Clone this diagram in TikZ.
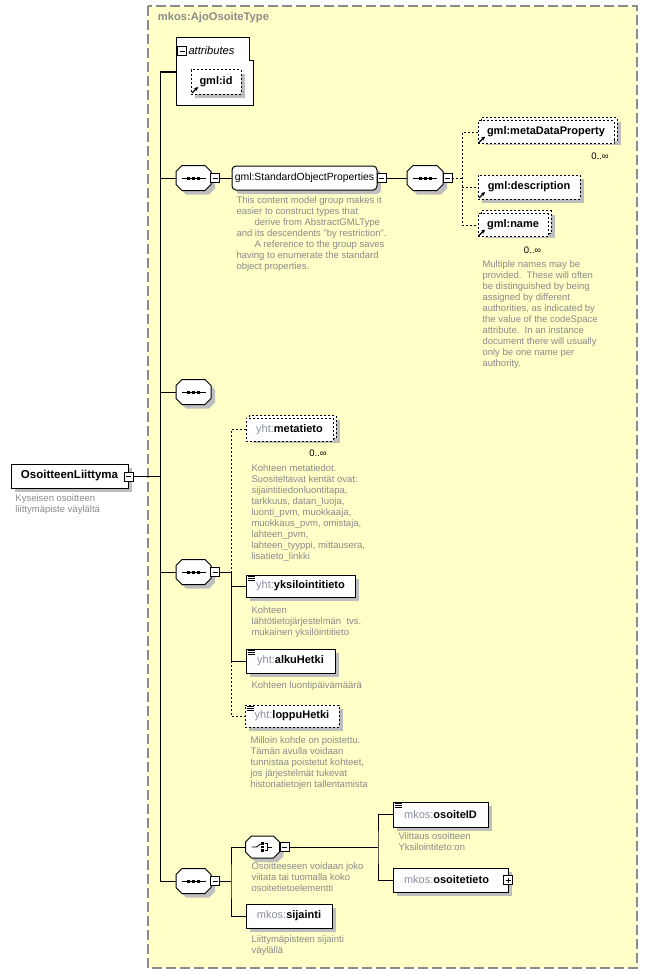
\documentclass[tikz,border=0pt]{standalone}
\usepackage{fontspec}
\setmainfont{Liberation Sans}
\usetikzlibrary{shadows,arrows.meta}

\definecolor{typefill}{HTML}{FFFFC8}
\definecolor{typeframe}{HTML}{8C8C8C}
\definecolor{notegray}{HTML}{8A8A8A}
\definecolor{prefixgray}{HTML}{8890A0}
\definecolor{shadowgray}{HTML}{BEBEBE}

\newcommand\pfx[1]{{\mdseries\color{prefixgray}#1}}
\newcommand\refmark[1]{\draw[line width=1.1pt,-{Stealth[length=4pt,width=4pt]}] ([shift={(1.5pt,1.5pt)}]#1.south west) -- ++(6pt,6pt);}
\newcommand\simplemark[1]{\foreach \k in {2pt,4pt,6pt} \draw[line width=0.7pt] ([shift={(2pt,-\k)}]#1.north west) -- ++(7pt,0pt);}
\newcommand\octagon[1]{\draw[fill=white,boxshadow] ([xshift=6pt]#1.north west) -- ([xshift=-6pt]#1.north east) -- ([yshift=-6pt]#1.north east)
  -- ([yshift=6pt]#1.south east) -- ([xshift=-6pt]#1.south east) -- ([xshift=6pt]#1.south west) -- ([yshift=6pt]#1.south west) -- ([yshift=-6pt]#1.north west) -- cycle;}
\newcommand\seqmark[1]{\octagon{#1}
  \draw[line width=1pt] ([xshift=-12pt]#1.center) -- ([xshift=12pt]#1.center);
  \foreach \d in {-5pt,0pt,5pt} \fill ([shift={(\d-1.5pt,-1.5pt)}]#1.center) rectangle ++(3pt,3pt);}

\tikzset{
  boxshadow/.style={drop shadow={shadow xshift=4pt,shadow yshift=-4pt,fill=shadowgray,opacity=1}},
  elembox/.style={draw,fill=white,minimum height=24pt,inner sep=2pt,font=\bfseries\fontsize{11}{13}\selectfont},
  optbox/.style={elembox,dash pattern=on 2pt off 2pt},
  octo/.style={minimum width=34pt,minimum height=24pt,inner sep=0pt},
  pmbox/.style={draw,fill=white,minimum size=9pt,inner sep=0pt,line width=0.8pt},
  minusbox/.style={pmbox,path picture={\draw ([xshift=2pt]path picture bounding box.west) -- ([xshift=-2pt]path picture bounding box.east);}},
  plusbox/.style={pmbox,path picture={\draw ([xshift=2pt]path picture bounding box.west) -- ([xshift=-2pt]path picture bounding box.east);
      \draw ([yshift=2pt]path picture bounding box.south) -- ([yshift=-2pt]path picture bounding box.north);}},
  note/.style={anchor=north west,align=left,inner sep=0pt,text=notegray,font=\fontsize{9.5}{11}\selectfont},
  link/.style={line width=1pt},
  optlink/.style={line width=1pt,dash pattern=on 2pt off 2pt},
  mult/.style={font=\fontsize{9.5}{10}\selectfont,inner sep=0pt}
}

\begin{document}
\begin{tikzpicture}[x=1pt,y=-1pt,line width=1pt]
    \useasboundingbox (0,0) rectangle (647,974);

    % the complex type
    \draw[typeframe,line width=1.2pt,dash pattern=on 10pt off 4pt,fill=typefill] (148,6) rectangle (637,968);
    \node[anchor=west,text=typeframe,font=\bfseries\fontsize{11.2}{13}\selectfont] (typetitle) at (154,18) {mkos:AjoOsoiteType};

    % attributes
    \node[minimum width=72pt,minimum height=67pt,inner sep=0pt] (attr) at (213,71.5) {};
    \draw[link,fill=white] (attr.north west) -- (attr.north east) -- ([yshift=-23pt]attr.north east) -- ++(4pt,0pt) |- (attr.south west) -- cycle;
    \node[minusbox] (attrm) at (182,51) {};
    \node[anchor=west,inner sep=0pt,font=\itshape\fontsize{11.2}{13}\selectfont] (attrlabel) at (188,50.5) {attributes};
    \node[optbox,boxshadow,minimum width=50pt] (gmlid) at (216,82) {gml:id};
    \refmark{gmlid}

    % root element
    \node[elembox,boxshadow,minimum width=117pt,font=\bfseries\fontsize{11.5}{13}\selectfont] (liittyma) at (69.5,476) {OsoitteenLiittyma};
    \node[minusbox] (liittymam) at (128.5,476.5) {};
    \node[note] (liittymanote) at (15,494) {Kyseisen osoitteen\\liittymäpiste väylältä};

    % sequences on the spine
    \node[octo] (seq1) at (193.5,178) {};
    \node[octo] (seq3) at (193.5,392) {};
    \node[octo] (seq4) at (193.5,572) {};
    \node[octo] (seq5) at (193.5,881) {};
    \foreach \s in {seq1,seq3,seq4,seq5} {\seqmark{\s}}
    \node[minusbox] (seq1m) at (215,178) {};
    \node[minusbox] (seq4m) at (215,572) {};
    \node[minusbox] (seq5m) at (215,881) {};

    \coordinate (spinetop) at (160,72);
    \draw[link] (liittymam.east) -- (liittymam.east -| spinetop);
    \draw[link] (spinetop -| attr.west) -- (spinetop) -- (spinetop |- seq5.west) -- (seq5.west);
    \foreach \s in {seq1,seq3,seq4} \draw[link] (spinetop |- \s.west) -- (\s.west);

    % gml:StandardObjectProperties
    \node[draw,fill=white,rounded corners=4pt,boxshadow,minimum width=145pt,minimum height=24pt,inner sep=2pt,font=\fontsize{10.4}{12}\selectfont] (sop) at (304.5,178) {gml:StandardObjectProperties};
    \node[minusbox] (sopm) at (381.5,178) {};
    \node[note] (sopnote) at (236,196) {This content model group makes it\\easier to construct types that\\\hspace*{18pt}derive from AbstractGMLType\\and its descendents "by restriction".\\\hspace*{18pt}A reference to the group saves\\having to enumerate the standard\\object properties.};
    \node[octo,minimum width=35pt] (seq2) at (425,178) {};
    \seqmark{seq2}
    \node[minusbox] (seq2m) at (447.5,178) {};
    \draw[link] (seq1m.east) -- (sop.west);
    \draw[link] (sopm.east) -- (seq2.west);

    \node[optbox,boxshadow,minimum width=136pt,minimum height=23pt] (metaback) at (549,129) {};
    \node[optbox,minimum width=136pt,minimum height=23pt] (meta) at (546,132) {gml:metaDataProperty};
    \refmark{meta}
    \node[mult] (metamult) at (600,156) {0..∞};
    \node[optbox,boxshadow,minimum width=102pt] (desc) at (529,187) {gml:description};
    \refmark{desc}
    \node[optbox,boxshadow,minimum width=70pt,minimum height=23pt] (nameback) at (516,222) {};
    \node[optbox,minimum width=70pt,minimum height=23pt] (name) at (513,225) {gml:name};
    \refmark{name}
    \node[mult] (namemult) at (532.5,250) {0..∞};
    \node[note] (namenote) at (482,260) {Multiple names may be\\provided.\ \ These will often\\be distinguished by being\\assigned by different\\authorities, as indicated by\\the value of the codeSpace\\attribute.\ \ In an instance\\document there will usually\\only be one name per\\authority.};

    \coordinate (fork2) at (462,178);
    \draw[optlink] (seq2m.east) -- (fork2);
    \draw[optlink] (meta.west) -| (fork2 |- name.west) -- (name.west);
    \draw[optlink] (fork2 |- desc.west) -- (desc.west);

    % yht elements
    \node[optbox,boxshadow,minimum width=87pt,minimum height=23pt] (metatietoback) at (292.5,427) {};
    \node[optbox,minimum width=87pt,minimum height=23pt] (metatieto) at (289.5,429.5) {\pfx{yht:}metatieto};
    \node[mult] (metatietomult) at (318,453) {0..∞};
    \node[note] (metatietonote) at (251,464) {Kohteen metatiedot.\\Suositeltavat kentät ovat:\\sijaintitiedonluontitapa,\\tarkkuus, datan\_luoja,\\luonti\_pvm, muokkaaja,\\muokkaus\_pvm, omistaja,\\lahteen\_pvm,\\lahteen\_tyyppi, mittausera,\\lisatieto\_linkki};

    \node[elembox,boxshadow,minimum width=109pt,minimum height=22pt] (yksil) at (300.5,586) {\pfx{yht:}yksilointitieto};
    \simplemark{yksil}
    \node[note] (yksilnote) at (251,606) {Kohteen\\lähtötietojärjestelmän\ \ tvs.\\mukainen yksilöintitieto};

    \node[elembox,boxshadow,minimum width=89pt] (alku) at (290.5,661) {\pfx{yht:}alkuHetki};
    \simplemark{alku}
    \node[note] (alkunote) at (251,681) {Kohteen luontipäivämäärä};

    \node[optbox,boxshadow,minimum width=94pt,minimum height=22pt] (loppu) at (292,716) {\pfx{yht:}loppuHetki};
    \simplemark{loppu}
    \node[note] (loppunote) at (250,736) {Milloin kohde on poistettu.\\Tämän avulla voidaan\\tunnistaa poistetut kohteet,\\jos järjestelmät tukevat\\historiatietojen tallentamista};

    \coordinate (fork4) at (231,572);
    \draw[link] (seq4m.east) -- (fork4);
    \draw[optlink] (metatieto.west) -| (fork4);
    \draw[link] (fork4) |- (alku.west);
    \draw[link] (fork4 |- yksil.west) -- (yksil.west);
    \draw[optlink] (fork4 |- alku.west) |- (loppu.west);

    % choice of address
    \node[octo,minimum width=33pt,minimum height=21pt] (choice) at (262.5,847) {};
    \octagon{choice}
    \node[minusbox] (choicem) at (284.5,847) {};
    \draw[line width=0.9pt] ([xshift=-11pt]choice.center) -- ++(5pt,0pt) -- ++(4pt,3pt);
    \foreach \d in {-3.5pt,0pt,3.5pt} \fill ([shift={(-1.2pt,\d-1.2pt)}]choice.center) rectangle ++(2.4pt,2.4pt);
    \draw[line width=0.9pt] ([shift={(2pt,3.5pt)}]choice.center) -| ([shift={(4.5pt,-3.5pt)}]choice.center) -- ++(-2.5pt,0pt);
    \draw[line width=0.9pt] ([xshift=4.5pt]choice.center) -- ++(5pt,0pt);
    \node[note] (choicenote) at (251,862) {Osoitteeseen voidaan joko\\viitata tai tuomalla koko\\osoitetietoelementti};

    \node[elembox,boxshadow,minimum width=86pt] (sijainti) at (289,916) {\pfx{mkos:}sijainti};
    \node[note] (sijaintinote) at (251,935) {Liittymäpisteen sijainti\\väylällä};

    \node[elembox,boxshadow,minimum width=95pt,minimum height=25pt] (osoiteid) at (440.5,814.5) {\pfx{mkos:}osoiteID};
    \simplemark{osoiteid}
    \node[note] (osoiteidnote) at (398,832) {Viittaus osoitteen\\Yksilointiteto:on};
    \node[elembox,boxshadow,minimum width=115pt] (osoitetieto) at (450.5,880) {\pfx{mkos:}osoitetieto\hspace*{8pt}};
    \node[plusbox] (osoitetietop) at (508,880) {};

    \coordinate (fork5) at (231,881);
    \coordinate (fork6) at (378,847);
    \draw[link] (seq5m.east) -- (fork5);
    \draw[link] (choice.west) -| (fork5) |- (sijainti.west);
    \draw[link] (choicem.east) -- (fork6);
    \draw[link] (osoiteid.west) -| (fork6) |- (osoitetieto.west);

\end{tikzpicture}
\end{document}
